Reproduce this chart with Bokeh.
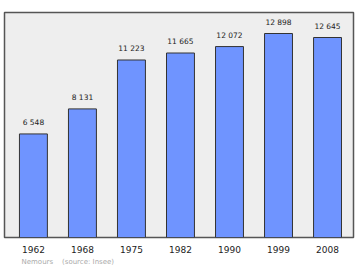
from bokeh.plotting import figure
from bokeh.models import Range1d, Title, FixedTicker, ColumnDataSource
from bokeh.core.properties import value
from bokeh.embed import file_html
from bokeh.resources import INLINE

years = ["1962", "1968", "1975", "1982", "1990", "1999", "2008"]
population = [6548, 8131, 11223, 11665, 12072, 12898, 12645]
labels = ["6 548", "8 131", "11 223", "11 665", "12 072", "12 898", "12 645"]

xs = list(range(len(years)))
src = ColumnDataSource(dict(x=xs, top=population, lab=labels))

p = figure(width=360, height=270, output_backend="svg", toolbar_location=None,
           x_range=Range1d(-0.59, 6.53), y_range=Range1d(0, 14226),
           min_border_left=4, min_border_right=7, min_border_top=12, min_border_bottom=33)
p.background_fill_color = "#eeeeee"
p.border_fill_color = "white"
p.outline_line_color = "#555555"
p.outline_line_width = 1.5
p.grid.visible = False
p.yaxis.visible = False

p.vbar(x="x", top="top", width=0.57, bottom=0, source=src,
       fill_color="#6f94ff", line_color="#333333", line_width=1)
p.text(x="x", y="top", text="lab", source=src, y_offset=-7,
       text_align="center", text_baseline="bottom",
       text_font=value("DejaVu Sans"), text_font_size="7.5px", text_color="#222222")

xa = p.xaxis[0]
xa.ticker = FixedTicker(ticks=xs)
xa.major_label_overrides = {i: y for i, y in zip(xs, years)}
xa.axis_line_color = None
xa.major_tick_line_color = None
xa.minor_tick_line_color = None
xa.major_tick_in = 0
xa.major_tick_out = 0
xa.major_label_standoff = 8
xa.major_label_text_font = "DejaVu Sans"
xa.major_label_text_font_size = "9px"
xa.major_label_text_color = "#222222"

footer = Title(text="Nemours\u00a0\u00a0\u00a0\u00a0(source: Insee)", align="left", offset=17,
               text_font="DejaVu Sans", text_font_size="7px", text_color="#aaaaaa",
               text_font_style="normal", standoff=0)
p.add_layout(footer, "below")

open("out.html", "w").write(file_html(p, INLINE))
